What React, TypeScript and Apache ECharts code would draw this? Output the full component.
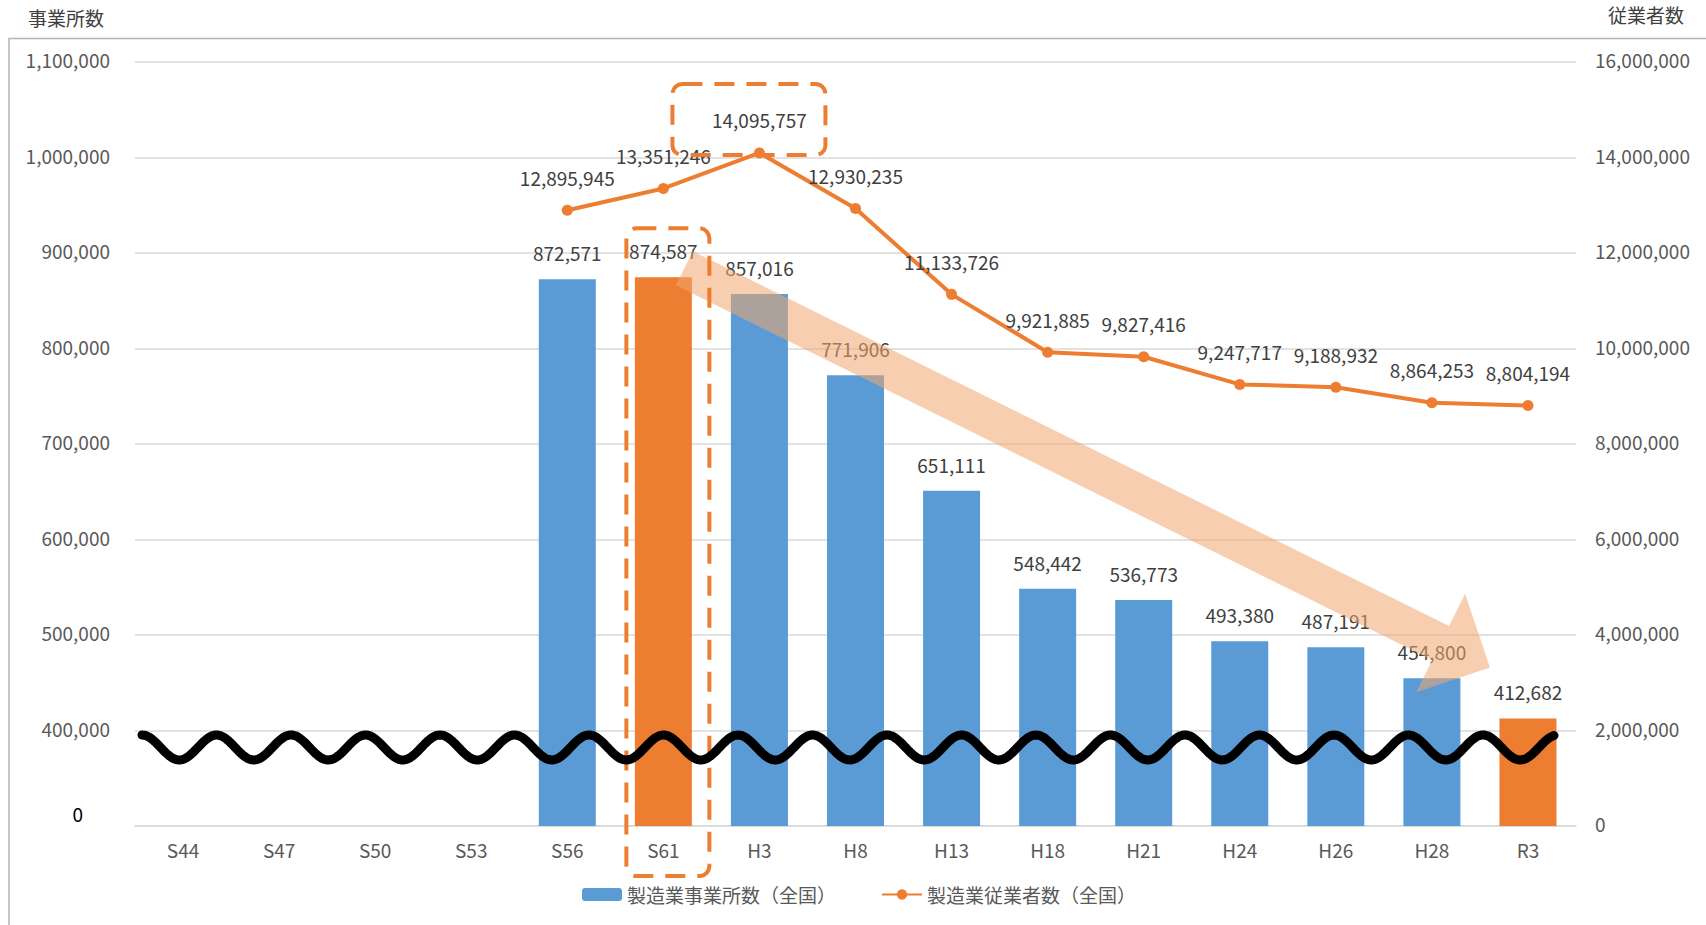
import React, { useEffect, useRef } from "react";
import * as echarts from "echarts";

// Survey years (Showa / Heisei / Reiwa)
const categories = ["S44", "S47", "S50", "S53", "S56", "S61", "H3", "H8", "H13", "H18", "H21", "H24", "H26", "H28", "R3"];
// Manufacturing establishments nationwide
const establishments: (number | null)[] = [null, null, null, null, 872571, 874587, 857016, 771906, 651111, 548442, 536773, 493380, 487191, 454800, 412682];
// Manufacturing employees nationwide
const employees: (number | null)[] = [null, null, null, null, 12895945, 13351246, 14095757, 12930235, 11133726, 9921885, 9827416, 9247717, 9188932, 8864253, 8804194];
// Years whose bars are emphasised
const highlighted = ["S61", "R3"];

const barName = "製造業事業所数（全国）";
const lineName = "製造業従業者数（全国）";
const leftTitle = "事業所数";
const rightTitle = "従業者数";

// Left axis is broken: the lowest band stands for 0–400,000
const leftBreakBase = 300000;
const leftMax = 1100000;
const leftStep = 100000;
const rightMax = 16000000;
const rightStep = 2000000;

const BLUE = "#5B9BD5";
const ORANGE = "#ED7D31";
const FONT = "'Noto Sans CJK JP', 'Noto Sans', sans-serif";
const fmt = (v: number) => Number(v).toLocaleString("en-US");

export default function App() {
  const ref = useRef<HTMLDivElement>(null);

  useEffect(() => {
    document.body.style.margin = "0";
    const chart = echarts.init(ref.current!, null, { renderer: "svg" });

    const barData = establishments.map((v, i) =>
      v == null
        ? null
        : {
            value: v,
            itemStyle: { color: highlighted.includes(categories[i]) ? ORANGE : BLUE },
          }
    );

    chart.setOption({
      animation: false,
      textStyle: { fontFamily: FONT },
      title: [
        { text: leftTitle, left: 23, top: 3, textStyle: { fontSize: 19, fontWeight: "normal", color: "#404040", fontFamily: FONT } },
        { text: rightTitle, right: 17, top: 0, textStyle: { fontSize: 19, fontWeight: "normal", color: "#404040", fontFamily: FONT } },
      ],
      grid: { left: 135, right: 130, top: 62, bottom: 99, containLabel: false },
      legend: {
        data: [barName, lineName],
        left: 577,
        top: 880,
        itemWidth: 40,
        itemHeight: 13,
        itemGap: 45,
        textStyle: { fontSize: 19, color: "#595959", fontFamily: FONT },
      },
      xAxis: {
        type: "category",
        data: categories,
        axisTick: { show: false },
        axisLine: { lineStyle: { color: "#D9D9D9", width: 1.5 } },
        axisLabel: { color: "#595959", fontSize: 19, margin: 14, fontFamily: FONT },
      },
      yAxis: [
        {
          type: "value",
          min: leftBreakBase,
          max: leftMax,
          interval: leftStep,
          axisLine: { show: false },
          axisTick: { show: false },
          splitLine: { lineStyle: { color: "#D9D9D9", width: 1.5 } },
          axisLabel: {
            color: "#595959",
            fontSize: 19,
            margin: 25,
            fontFamily: FONT,
            formatter: (v: number) => (v === leftBreakBase ? "{zero|0}" : `{n|${fmt(v)}}`),
            rich: {
              n: { color: "#595959", fontSize: 19, fontFamily: FONT, padding: [0, 0, 5, 0] },
              zero: { color: "#000000", fontSize: 19, fontFamily: FONT, padding: [0, 27, 26, 0] },
            },
          },
        },
        {
          type: "value",
          min: 0,
          max: rightMax,
          interval: rightStep,
          axisLine: { show: false },
          axisTick: { show: false },
          splitLine: { show: false },
          axisLabel: {
            color: "#595959",
            fontSize: 19,
            margin: 19,
            fontFamily: FONT,
            formatter: (v: number) => `{n|${fmt(v)}}`,
            rich: {
              n: { color: "#595959", fontSize: 19, fontFamily: FONT, padding: [0, 0, 5, 0] },
            },
          },
        },
      ],
      series: [
        {
          name: barName,
          type: "bar",
          yAxisIndex: 0,
          barWidth: 57,
          itemStyle: { color: BLUE },
          data: barData,
          label: {
            show: true,
            position: "top",
            distance: 17,
            color: "#404040",
            fontSize: 19,
            fontFamily: FONT,
            formatter: (p: any) => fmt(p.value),
          },
        },
        {
          name: lineName,
          type: "line",
          yAxisIndex: 1,
          data: employees,
          symbol: "circle",
          symbolSize: 11,
          lineStyle: { color: ORANGE, width: 4 },
          itemStyle: { color: ORANGE },
          label: {
            show: true,
            position: "top",
            distance: 18,
            color: "#404040",
            fontSize: 19,
            fontFamily: FONT,
            formatter: (p: any) => fmt(p.value),
          },
        },
      ],
    });

    // Annotation layer positioned from the axes
    const pL = (cat: string, v: number) => chart.convertToPixel({ xAxisIndex: 0, yAxisIndex: 0 }, [cat, v]) as number[];
    const pR = (cat: string, v: number) => chart.convertToPixel({ xAxisIndex: 0, yAxisIndex: 1 }, [cat, v]) as number[];
    const idx = (c: string) => categories.indexOf(c);

    const first = pL(categories[0], leftBreakBase);
    const second = pL(categories[1], leftBreakBase);
    const band = second[0] - first[0];
    const gridLeft = first[0] - band / 2;
    const baseY = first[1];

    // Wavy break mark across the lowest band
    const lastBar = pL(categories[categories.length - 1], leftBreakBase);
    const breakY = pL(categories[0], 400000)[1];
    const waveCy = breakY + 17;
    const waveA = 12.5;
    const waveP = 74.5;
    const wx0 = gridLeft + 7;
    const wx1 = lastBar[0] + 28;
    const wavePts: number[][] = [];
    for (let x = wx0; x <= wx1 + 0.01; x += 2) {
      wavePts.push([x, waveCy - waveA * Math.cos((2 * Math.PI * (x - wx0)) / waveP)]);
    }

    // Downward trend arrow from the S61 bar toward R3
    const s61 = pL("S61", establishments[idx("S61")] as number);
    const r3 = pL("R3", establishments[idx("R3")] as number);
    const T = [s61[0] + 21, s61[1] - 9];
    const P = [r3[0] - 38, r3[1] - 51];
    const len = Math.hypot(P[0] - T[0], P[1] - T[1]);
    const ux = (P[0] - T[0]) / len;
    const uy = (P[1] - T[1]) / len;
    const nx = -uy;
    const ny = ux;
    const w = 19;
    const L = 55;
    const H = 55;
    const B = [P[0] - ux * L, P[1] - uy * L];
    const arrowPts = [
      [T[0] + nx * w, T[1] + ny * w],
      [B[0] + nx * w, B[1] + ny * w],
      [B[0] + nx * H, B[1] + ny * H],
      P,
      [B[0] - nx * H, B[1] - ny * H],
      [B[0] - nx * w, B[1] - ny * w],
      [T[0] - nx * w, T[1] - ny * w],
    ];

    // Dashed frames: the S61 column and the peak employee label
    const s61Col = pL("S61", leftBreakBase);
    const peak = pR("H3", employees[idx("H3")] as number);

    const dashStyle = { stroke: ORANGE, lineWidth: 4, lineDash: [20, 12], fill: "transparent" };

    chart.setOption({
      graphic: [
        {
          type: "polyline",
          silent: true,
          z: 1,
          shape: { points: [[9, 925], [9, 38.5], [1706, 38.5]] },
          style: { stroke: "#B4B4B4", lineWidth: 1.5, fill: "none" },
        },
        {
          type: "polygon",
          silent: true,
          z: 20,
          shape: { points: arrowPts },
          style: { fill: "rgba(240,165,110,0.55)" },
        },
        {
          type: "rect",
          silent: true,
          z: 30,
          shape: { x: s61Col[0] - 37, y: s61[1] - 49, width: 83, height: baseY + 50 - (s61[1] - 49), r: 10 },
          style: dashStyle,
        },
        {
          type: "rect",
          silent: true,
          z: 30,
          shape: { x: peak[0] - 87, y: peak[1] - 69, width: 153, height: 71, r: 10 },
          style: dashStyle,
        },
        {
          type: "polyline",
          silent: true,
          z: 40,
          shape: { points: wavePts },
          style: { stroke: "#000000", lineWidth: 9, fill: "none", lineCap: "round", lineJoin: "round" },
        },
      ],
    });

    return () => chart.dispose();
  }, []);

  return <div ref={ref} style={{ position: "absolute", left: 0, top: 0, width: 1706, height: 925 }} />;
}
